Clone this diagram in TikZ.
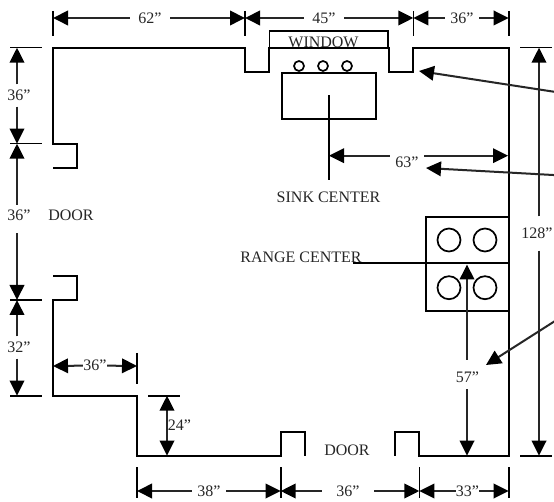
\documentclass[tikz,border=0pt]{standalone}
\usepackage{fontspec}
\setmainfont{Liberation Serif}
\usetikzlibrary{arrows.meta}
\tikzset{
  wall/.style={line width=1.8pt,line cap=butt,line join=miter},
  ring/.style={draw,circle,line width=1.7pt,inner sep=0pt},
  tick/.style={line width=1.6pt},
  dimline/.style={line width=2pt,black!85,-{Triangle[length=15pt,width=14.5pt,color=black]}},
  dimboth/.style={line width=2pt,black!85,{Triangle[length=15pt,width=14.5pt,color=black]}-{Triangle[length=15pt,width=14.5pt,color=black]}},
  lbl/.style={inner sep=0pt,text=black!85,font=\fontsize{16}{18}\selectfont},
  gap/.style 2 args={lbl,minimum width=#1pt,minimum height=#2pt}
}
\begin{document}
\begin{tikzpicture}[x=1pt,y=-1pt]
\useasboundingbox (0,0) rectangle (554,502);
\fill[white] (0,0) rectangle (554,502);
% labels
\node[lbl] (window) at (323.5,42.3) {WINDOW};
\node[lbl] (sinklabel) at (328.5,197) {SINK CENTER};
\node[lbl] (rangelabel) at (301,257.5) {RANGE CENTER};
\node[lbl] (doorleft) at (71,215) {DOOR};
\node[lbl] (doorbottom) at (347,450) {DOOR};
% outline
\draw[wall] (53,167.7) -- (77,167.7) -- (77,143.7) -- (53,143.7) -- (53,47.7) -- (245,47.7) -- (245,71.7) -- (269.3,71.7) -- (269.3,47.7) -- (389,47.7) -- (389,71.7) -- (413.3,71.7) -- (413.3,47.7) -- (508.7,47.7) -- (508.7,455.7) -- (419.3,455.7) -- (419.3,431.7) -- (395,431.7) -- (395,455.7);
\draw[wall] (53,275.7) -- (77,275.7) -- (77,300) -- (53,300) -- (53,395.7) -- (137,395.7) -- (137,455.7) -- (280.7,455.7) -- (280.7,431.7) -- (305,431.7) -- (305,455.7);
% window, sink
\draw[wall] (269.5,47.7) -- (269.5,30.7) -- (388,30.7) -- (388,47.7);
\draw[wall] (281.7,72.7) rectangle (376,118.7);
\node[ring,minimum size=10pt] (s1) at (299,66) {};
\node[ring,minimum size=10pt] (s2) at (323,66) {};
\node[ring,minimum size=10pt] (s3) at (347,66) {};
\coordinate (sinktop) at (329,95.5);
\coordinate (sinkbot) at (329,180);
\draw[wall] (sinktop) -- (sinkbot);
% range
\draw[wall] (426,216.7) rectangle (508.7,310.7);
\coordinate (rangeL) at (352.7,263.3);
\coordinate (rangeR) at (508.7,263.3);
\draw[wall] (rangeL) -- (rangeR);
\node[ring,minimum size=23pt] (b1) at (449,240) {};
\node[ring,minimum size=23pt] (b2) at (485,240) {};
\node[ring,minimum size=23pt] (b3) at (449,287.7) {};
\node[ring,minimum size=23pt] (b4) at (485,287.7) {};
% top dimensions
\foreach \n/\x in {ta/53,tb/245,tc/413.3,td/508.7}{
  \coordinate (\n1) at (\x,11); \coordinate (\n2) at (\x,36);
  \coordinate (\n) at (\x,18);
  \draw[tick] (\n1) -- (\n2);
}
\node[gap={40}{18}] (d62) at (150,18) {62”};
\node[gap={40}{18}] (d45) at (324,18) {45”};
\node[gap={34}{18}] (d36t) at (462,18) {36”};
\draw[dimline] (d62) -- (ta); \draw[dimline] (d62) -- (tb);
\draw[dimline] (d45) -- (tb); \draw[dimline] (d45) -- (tc);
\draw[dimline] (d36t) -- (tc); \draw[dimline] (d36t) -- (td);
% left dimensions
\foreach \n/\y in {la/47.7,lb/143.7,lc/300,ld/395.7}{
  \coordinate (\n1) at (10,\y); \coordinate (\n2) at (42,\y);
  \coordinate (\n) at (17,\y);
  \draw[tick] (\n1) -- (\n2);
}
\node[gap={24}{22}] (d36a) at (19,95.5) {36”};
\node[gap={24}{28}] (d36b) at (17,219) {};
\node[lbl] at (19,215) {36”};
\node[gap={24}{22}] (d32) at (19,347.5) {32”};
\coordinate (d36ax) at (17,95.5); \coordinate (d32x) at (17,347.5);
\draw[dimline] (d36ax |- d36a.north) -- (la); \draw[dimline] (d36ax |- d36a.south) -- (lb);
\draw[dimline] (d36b) -- (lb); \draw[dimline] (d36b) -- (lc);
\draw[dimline] (d32x |- d32.north) -- (lc); \draw[dimline] (d32x |- d32.south) -- (ld);
% inner dimensions
\coordinate (in1) at (53,366); \coordinate (in2) at (137,366);
\coordinate (in2a) at (137,353); \coordinate (in2b) at (137,384);
\draw[tick] (in2a) -- (in2b);
\node[gap={24}{14}] (d36c) at (95,365.5) {36”};
\draw[dimline] (d36c) -- (in1); \draw[dimline] (d36c) -- (in2);
\coordinate (v1a) at (148,395.7); \coordinate (v1b) at (180,395.7);
\draw[tick] (v1a) -- (v1b);
\coordinate (v24t) at (167,395.7); \coordinate (v24b) at (167,455.7);
\draw[dimboth] (v24t) -- (v24b);
\node[lbl] (d24) at (179.5,425) {24”};
% bottom dimensions
\foreach \n/\x in {ba/137,bb/280.7,bc/419.3,bd/508.7}{
  \coordinate (\n1) at (\x,467); \coordinate (\n2) at (\x,498);
  \coordinate (\n) at (\x,491);
  \draw[tick] (\n1) -- (\n2);
}
\node[gap={34}{18}] (d38) at (209,491) {38”};
\node[gap={52}{18}] (d36d) at (348,491) {36”};
\node[gap={23}{18}] (d33) at (467.5,491) {33”};
\draw[dimline] (d38) -- (ba); \draw[dimline] (d38) -- (bb);
\draw[dimline] (d36d) -- (bb); \draw[dimline] (d36d) -- (bc);
\draw[dimline] (d33) -- (bc); \draw[dimline] (d33) -- (bd);
% 63
\coordinate (s63a) at (329,155.7); \coordinate (s63b) at (508,155.7);
\node[lbl,minimum width=34pt] (d63) at (407,162) {63”};
\draw[dimline] (s63a -| d63.west) -- (s63a);
\draw[dimline] (s63a -| d63.east) -- (s63b);
% 57
\coordinate (r57t) at (467,264.5); \coordinate (r57b) at (467,455.7);
\node[gap={24}{29}] (d57) at (467,374.5) {};
\node[lbl] at (467.5,377.5) {57”};
\draw[dimline] (d57) -- (r57t); \draw[dimline] (d57) -- (r57b);
% 128
\coordinate (o1a) at (520,47.7); \coordinate (o1b) at (552,47.7);
\coordinate (o2a) at (520,455.7); \coordinate (o2b) at (552,455.7);
\draw[tick] (o1a) -- (o1b); \draw[tick] (o2a) -- (o2b);
\coordinate (o1) at (539,47.7); \coordinate (o2) at (539,455.7);
\node[gap={30}{34}] (d128) at (539,233.5) {};
\node[lbl] at (537,233.5) {128”};
\draw[dimline] (d128) -- (o1); \draw[dimline] (d128) -- (o2);
% pointer arrows
\coordinate (p1) at (555,91.9); \coordinate (p1t) at (419,71);
\coordinate (p2) at (555,175.1); \coordinate (p2t) at (426,168);
\coordinate (p3) at (555,321); \coordinate (p3t) at (486,365);
\draw[dimline] (p1) -- (p1t);
\draw[dimline] (p2) -- (p2t);
\draw[dimline] (p3) -- (p3t);
\end{tikzpicture}
\end{document}
